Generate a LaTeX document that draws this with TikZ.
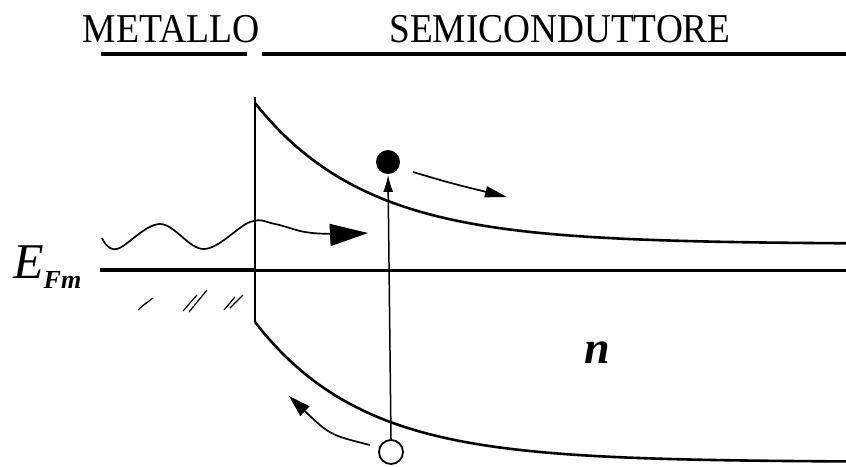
\documentclass[tikz,border=0pt]{standalone}
\usepackage{fontspec}
\setmainfont{Liberation Serif}
\usetikzlibrary{arrows.meta}
\begin{document}
\begin{tikzpicture}[x=1pt,y=-1pt,
  band/.style={line width=2.6pt},
  titleline/.style={line width=4pt},
  title/.style={font=\fontsize{41}{41}\selectfont, anchor=base, inner sep=0pt},
  hatch/.style={line width=1.2pt},
  carrier/.style={circle, minimum size=24pt, inner sep=0pt, line width=1.8pt}
]
\useasboundingbox (0,0) rectangle (846,466);
% titles
\node[title] (met) at (171.5,42) {\scalebox{0.92}[1]{METALLO}};
\node[title] (semi) at (560,42) {\scalebox{0.91}[1]{SEMICONDUTTORE}};
\draw[titleline] (101,54) -- (247,54);
\draw[titleline] (262,54) -- (846,54);
% Fermi level
\node[anchor=base west, inner sep=0pt] (efm) at (13,278)
  {{\fontsize{50}{50}\selectfont\itshape E}\raisebox{-10pt}{\fontsize{26}{26}\selectfont\itshape\bfseries Fm}};
\draw[line width=4.5pt] (100,270) -- (256,270);
\draw[line width=3pt] (256,270) -- (846,270);
% interface
\draw[line width=2.2pt] (255,97) -- (255,322);
% conduction band
\draw[band] plot[domain=255:846, samples=120] (\x, {244-141*exp(-(\x-255)/112)});
% valence band
\draw[band] plot[domain=255:846, samples=120] (\x, {462-140*exp(-(\x-255)/108)});
% metal filled states marks
\draw[hatch] (138,310) -- (146,303) (144,305) -- (153,298);
\draw[hatch] (183,311) -- (197,295) (189,312) -- (207,290);
\draw[hatch] (224,310) -- (235,297) (230,308) -- (243,295);
% electron and hole
\node[carrier, fill=black] (el) at (388,162) {};
\node[carrier, draw, fill=white] (ho) at (391,452) {};
\draw[line width=1.5pt, -{Latex[length=17pt,width=10pt]}] (ho.north) -- (el.south);
% photon
\draw[line width=1.7pt, -{Triangle[length=38pt,width=22pt]}]
  plot[smooth, tension=0.6] coordinates {(102,238) (117,249) (160,224) (204,249) (250,222) (275,224) (305,232) (335,234) (368,233)};
% electron drift
\coordinate (e1) at (413,172);
\coordinate (e2) at (507,197);
\draw[line width=1.7pt, -{Triangle[length=22pt,width=11pt]}] (e1) .. controls (450,183) .. (e2);
% hole drift
\coordinate (h1) at (370,445);
\coordinate (h2) at (289,396);
\draw[line width=1.7pt, -{Triangle[length=22pt,width=13pt]}] (h1) .. controls (330,435) .. (h2);
% n label
\node[inner sep=0pt, font=\fontsize{46}{46}\selectfont\bfseries\itshape] (nlab) at (597,353) {n};
\end{tikzpicture}
\end{document}
